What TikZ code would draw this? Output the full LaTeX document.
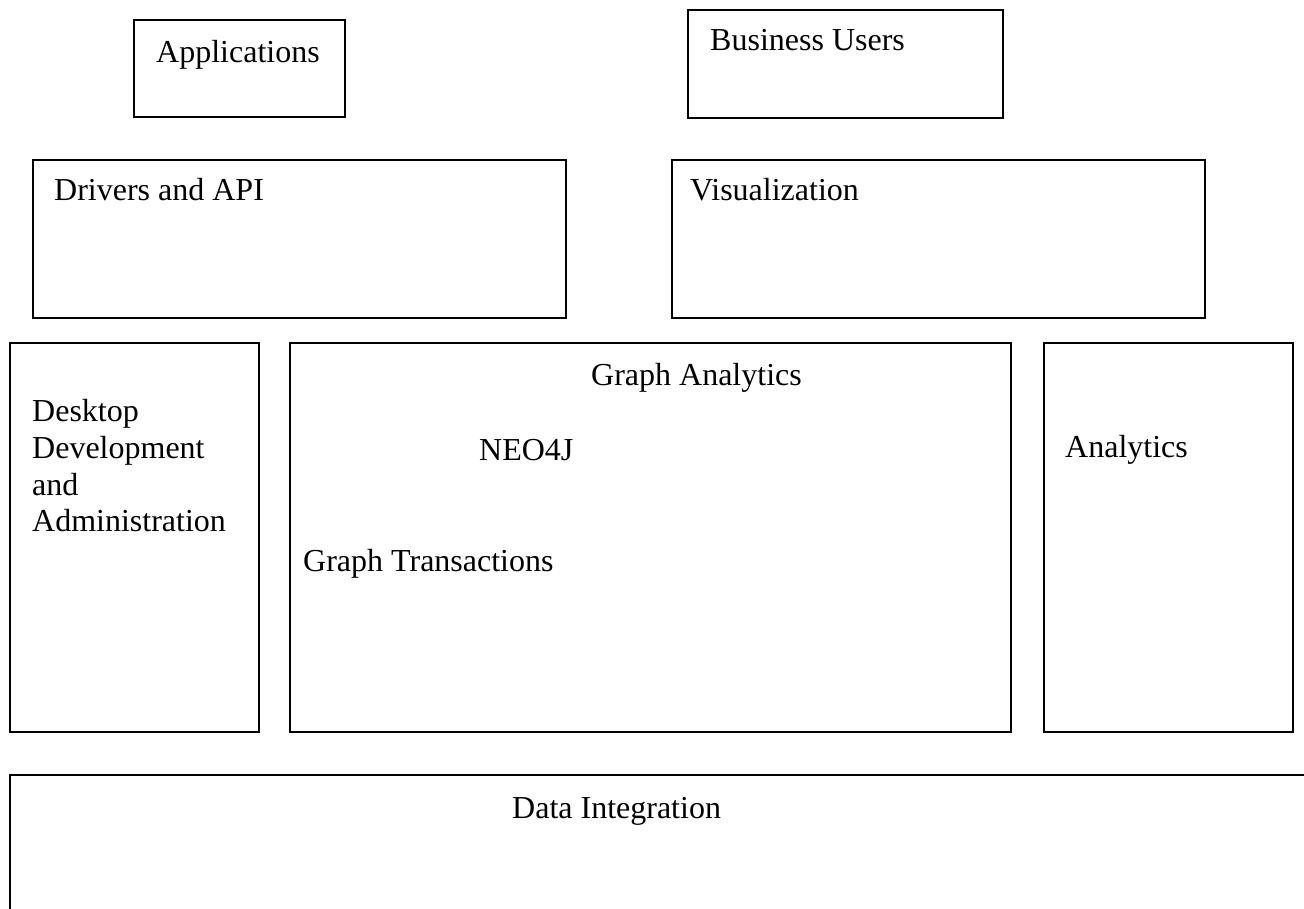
\documentclass[tikz,border=0pt]{standalone}
\usepackage{fontspec}
\setmainfont{Liberation Serif}
\begin{document}
\begin{tikzpicture}[x=1pt,y=-1pt,
  box/.style={draw=black,line width=1.8pt,anchor=north west,inner sep=0pt,outer sep=0pt},
  lbl/.style={anchor=base west,inner sep=0pt,font=\fontsize{32}{38.5}\selectfont,align=left}]
\useasboundingbox (0,0) rectangle (1304,909);
\clip (0,0) rectangle (1304,909);
\node[box,minimum width=211pt,minimum height=97pt] (app) at (134,20) {};
\node[box,minimum width=315pt,minimum height=108pt] (bus) at (688,10) {};
\node[box,minimum width=533pt,minimum height=158pt] (drv) at (33,160) {};
\node[box,minimum width=533pt,minimum height=158pt] (vis) at (672,160) {};
\node[box,minimum width=249pt,minimum height=389pt] (desk) at (10,343) {};
\node[box,minimum width=721pt,minimum height=389pt] (neo) at (290,343) {};
\node[box,minimum width=249pt,minimum height=389pt] (ana) at (1044,343) {};
\node[box,minimum width=1330pt,minimum height=200pt] (data) at (10,775) {};
\node[lbl] (tapp) at (156,63) {Applications};
\node[lbl] (tbus) at (710,51) {Business Users};
\node[lbl] (tdrv) at (54,201) {Drivers and API};
\node[lbl] (tvis) at (690,201) {Visualization};
\node[lbl] (tdesk1) at (32,421.5) {Desktop};
\node[lbl] (tdesk2) at (32,458.2) {Development};
\node[lbl] (tdesk3) at (32,495) {and};
\node[lbl] (tdesk4) at (32,531.7) {Administration};
\node[lbl] (tga) at (591,385) {Graph Analytics};
\node[lbl] (tneo) at (479,460) {NEO4J};
\node[lbl] (tgt) at (303,571) {Graph Transactions};
\node[lbl] (tana) at (1065,457) {Analytics};
\node[lbl] (tdata) at (512,818) {Data Integration};
\end{tikzpicture}
\end{document}
